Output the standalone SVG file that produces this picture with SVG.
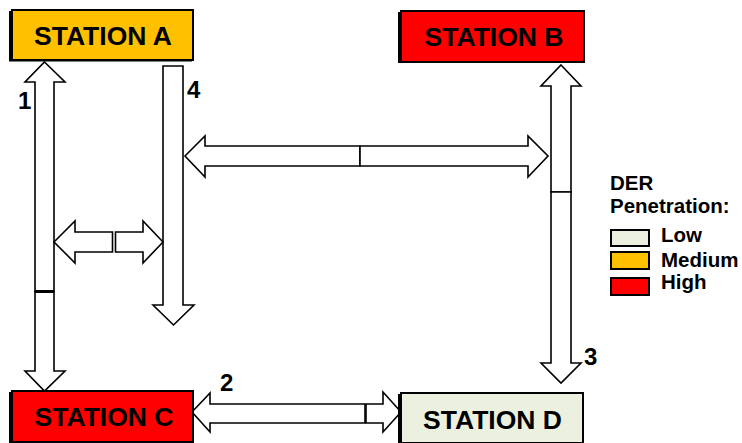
<svg xmlns="http://www.w3.org/2000/svg" width="742" height="443" viewBox="0 0 742 443">
  <style>
    .box { stroke: #000; stroke-width: 2; }
    .shadow { fill: #000; }
    .label { font-family: "Liberation Sans", Arial, sans-serif; font-weight: bold; fill: #000; }
    .station { font-size: 26.5px; text-anchor: middle; }
    .num { font-size: 24px; }
    .legend { font-size: 20.5px; }
    .arrow { fill: #fff; stroke: #000; stroke-width: 1.6; stroke-linejoin: miter; }
    .seam { stroke: #000; stroke-width: 3; }
    .low { fill: #EBF1DE; }
    .medium { fill: #FFC000; }
    .high { fill: #FF0000; }
  </style>

  <!-- Connectors: block arrows, each double arrow drawn as two halves -->
  <g id="connectors">
    <!-- Link 1: Station A to Station C -->
    <path class="arrow" d="M44.5,62 L65,82 L54,82 L54,291.5 L35,291.5 L35,82 L25,82 Z"/>
    <path class="arrow" d="M35,291.5 L54,291.5 L54,371 L65,371 L44.5,391 L25,371 L35,371 Z"/>
    <line class="seam" x1="35" y1="291.5" x2="54" y2="291.5"/>
    <!-- Link 4: vertical feeder -->
    <path class="arrow" d="M163,66 L183,66 L183,305 L194,305 L173.5,325 L153,305 L163,305 Z"/>
    <!-- Tie between links 1 and 4 -->
    <path class="arrow" d="M54,242 L75,221 L75,232 L112.5,232 L112.5,252 L75,252 L75,263 Z"/>
    <path class="arrow" d="M115.5,232 L143,232 L143,221 L163,242 L143,263 L143,252 L115.5,252 Z"/>
    <!-- Tie between links 4 and 3 -->
    <path class="arrow" d="M185,156 L205,136 L205,146 L360,146 L360,166 L205,166 L205,177 Z"/>
    <path class="arrow" d="M360,146 L528,146 L528,136 L548,156 L528,177 L528,166 L360,166 Z"/>
    <!-- Link 3: Station B to Station D -->
    <path class="arrow" d="M561,65 L581,86 L571,86 L571,192 L551,192 L551,86 L541,86 Z"/>
    <path class="arrow" d="M551,192 L571,192 L571,363 L581,363 L561,383 L541,363 L551,363 Z"/>
    <!-- Link 2: Station C to Station D -->
    <path class="arrow" d="M192,412 L210,393 L210,404 L365,404 L365,423 L210,423 L210,432 Z"/>
    <path class="arrow" d="M366,404 L383,404 L383,392 L401,412 L383,432 L383,423 L366,423 Z"/>
  </g>

  <!-- Link numbers -->
  <g id="link-labels">
    <text class="label num" x="18" y="109">1</text>
    <text class="label num" x="220" y="391">2</text>
    <text class="label num" x="584" y="365">3</text>
    <text class="label num" x="187" y="98">4</text>
  </g>

  <g id="station-a">
    <rect class="shadow" x="9" y="11" width="183" height="50.5"/>
    <rect class="box medium" x="12" y="10" width="181" height="50"/>
    <text class="label station" x="103" y="45">STATION A</text>
  </g>

  <g id="station-b">
    <rect class="shadow" x="398" y="12" width="185" height="51"/>
    <rect class="box high" x="401" y="11" width="183" height="51"/>
    <text class="label station" x="494" y="46">STATION B</text>
  </g>

  <g id="station-c">
    <rect class="shadow" x="9" y="392" width="183" height="51"/>
    <rect class="box high" x="12" y="391" width="181" height="51"/>
    <text class="label station" x="104" y="426">STATION C</text>
  </g>

  <g id="station-d">
    <rect class="shadow" x="398" y="394" width="184" height="50"/>
    <rect class="box low" x="401" y="393" width="182" height="50"/>
    <text class="label station" x="492.5" y="429">STATION D</text>
  </g>

  <!-- Legend -->
  <g id="legend">
    <text class="label legend" x="610" y="190">DER</text>
    <text class="label legend" x="610" y="213">Penetration:</text>
    <rect class="box low" x="611" y="230" width="38" height="16"/>
    <text class="label legend" x="661" y="242">Low</text>
    <rect class="box medium" x="611" y="252" width="38" height="17"/>
    <text class="label legend" x="661" y="266.5">Medium</text>
    <rect class="box high" x="611" y="278" width="38" height="17"/>
    <text class="label legend" x="661" y="288.5">High</text>
  </g>
</svg>
